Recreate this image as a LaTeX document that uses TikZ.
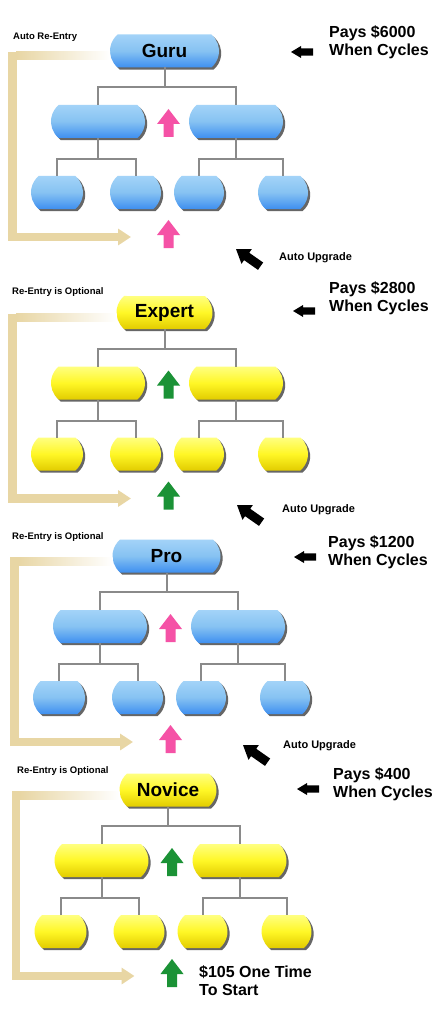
\documentclass[tikz,border=0pt]{standalone}
\usepackage{fontspec}
\setmainfont{Liberation Sans}
\usetikzlibrary{shapes.misc,shadows,arrows.meta}
\definecolor{bluetop}{HTML}{A3D3F8}
\definecolor{bluemid}{HTML}{86C2F2}
\definecolor{bluebot}{HTML}{3E8FF0}
\definecolor{yeltop}{HTML}{FFFF80}
\definecolor{yelmid}{HTML}{FFF726}
\definecolor{yelbot}{HTML}{E2CC00}
\definecolor{beige}{HTML}{E8D6A4}
\definecolor{pinkc}{HTML}{F552A6}
\definecolor{greenc}{HTML}{1B9236}
\definecolor{connc}{HTML}{8A8A8A}
\tikzset{
  tbox/.style={rounded rectangle, rounded rectangle arc length=100,
    minimum height=33pt, inner sep=0pt, outer sep=0pt,
    drop shadow={shadow xshift=2.2pt, shadow yshift=-2.2pt, fill=black!75, opacity=0.8}},
  bluebox/.style={tbox, top color=bluetop, bottom color=bluebot, middle color=bluemid},
  yellowbox/.style={tbox, top color=yeltop, bottom color=yelbot, middle color=yelmid},
  toplabel/.style={font=\fontsize{19}{20}\selectfont\bfseries},
  conn/.style={draw=connc, line width=2pt},
  reentry/.style={draw=beige, line width=8.5pt, -{Triangle[length=13pt,width=16pt]}},
  paytext/.style={anchor=west, align=left, inner sep=0pt, font=\fontsize{16}{18}\selectfont\bfseries},
  upgtext/.style={anchor=west, inner sep=0pt, font=\fontsize{11}{12}\selectfont\bfseries},
  retext/.style={anchor=west, inner sep=0pt, font=\fontsize{9.5}{11}\selectfont\bfseries},
  upblock/.pic={\path[pic actions] (-5,0) -- (-5,-13) -- (-11.5,-13) -- (0,-28) -- (11.5,-13) -- (5,-13) -- (5,0) -- cycle;},
  leftblock/.pic={\path[pic actions] (0,0) -- (10,-6) -- (10,-3.6) -- (22,-3.6) -- (22,3.6) -- (10,3.6) -- (10,6) -- cycle;},
  upgradeblock/.pic={\path[pic actions] (0,0) -- (13,-9) -- (13,-4.5) -- (30,-4.5) -- (30,4.5) -- (13,4.5) -- (13,9) -- cycle;}
}
% #1 id, #2 x offset, #3 y offset, #4 box style, #5 label, #6 top width, #7 arrow colour
\newcommand\tierpanel[7]{%
\begin{scope}[shift={(#2,#3)}]
  \node[#4, toplabel, minimum width=#6] (#1t) at (164.5,17) {#5};
  \node[#4, minimum width=94pt] (#1m1) at (98,87.5) {};
  \node[#4, minimum width=94pt] (#1m2) at (236,87.5) {};
  \node[#4, minimum width=52pt] (#1l1) at (57,158.5) {};
  \node[#4, minimum width=51pt] (#1l2) at (135.5,158.5) {};
  \node[#4, minimum width=50pt] (#1l3) at (199,158.5) {};
  \node[#4, minimum width=50pt] (#1l4) at (283,158.5) {};
  \draw[conn] (#1t.south) -- ++(0,19.5) coordinate (#1j);
  \draw[conn] (#1m1.north) |- (#1j) -| (#1m2.north);
  \draw[conn] (#1m1.south) -- ++(0,21) coordinate (#1ja);
  \draw[conn] (#1l1.north) |- (#1ja) -| (#1l2.north);
  \draw[conn] (#1m2.south) -- ++(0,21) coordinate (#1jb);
  \draw[conn] (#1l3.north) |- (#1jb) -| (#1l4.north);
  \shade[left color=beige, middle color=beige!80, right color=white] (16,18) rectangle (#1t.west |- 0,26);
  \coordinate (#1e) at (131,203);
  \draw[reentry] (12.5,18) |- (#1e);
  \pic[fill=#7] at (168.5,103) {upblock};
  \pic[fill=#7] at (168.5,214) {upblock};
\end{scope}}
\begin{document}
\begin{tikzpicture}[x=1pt,y=-1pt]
\fill[white] (0,0) rectangle (440,1024);
\useasboundingbox (0,0) rectangle (440,1024);

\tierpanel{g}{0}{34}{bluebox}{Guru}{109pt}{pinkc}
\tierpanel{e}{0}{295.5}{yellowbox}{Expert}{96pt}{greenc}
\tierpanel{p}{2}{539}{bluebox}{Pro}{108pt}{pinkc}
\tierpanel{n}{3.5}{773}{yellowbox}{Novice}{97pt}{greenc}

\node[retext] (re1) at (13,37) {Auto Re-Entry};
\node[retext] (re2) at (12,292) {Re-Entry is Optional};
\node[retext] (re3) at (12,537) {Re-Entry is Optional};
\node[retext] (re4) at (17,771) {Re-Entry is Optional};

\node[paytext] (pay1) at (329,42) {Pays \$6000\\When Cycles};
\node[paytext] (pay2) at (329,298) {Pays \$2800\\When Cycles};
\node[paytext] (pay3) at (328,552) {Pays \$1200\\When Cycles};
\node[paytext] (pay4) at (333,784) {Pays \$400\\When Cycles};
\pic[fill=black] at (291,52) {leftblock};
\pic[fill=black] at (293,311) {leftblock};
\pic[fill=black] at (294,557) {leftblock};
\pic[fill=black] at (297,789) {leftblock};

\pic[fill=black, rotate=-35] at (236,249) {upgradeblock};
\pic[fill=black, rotate=-35] at (237,505) {upgradeblock};
\pic[fill=black, rotate=-35] at (243,745) {upgradeblock};
\node[upgtext] (up1) at (279,258) {Auto Upgrade};
\node[upgtext] (up2) at (282,510) {Auto Upgrade};
\node[upgtext] (up3) at (283,746) {Auto Upgrade};

\node[paytext] (start) at (199,981) {\$105 One Time\\To Start};
\end{tikzpicture}
\end{document}
